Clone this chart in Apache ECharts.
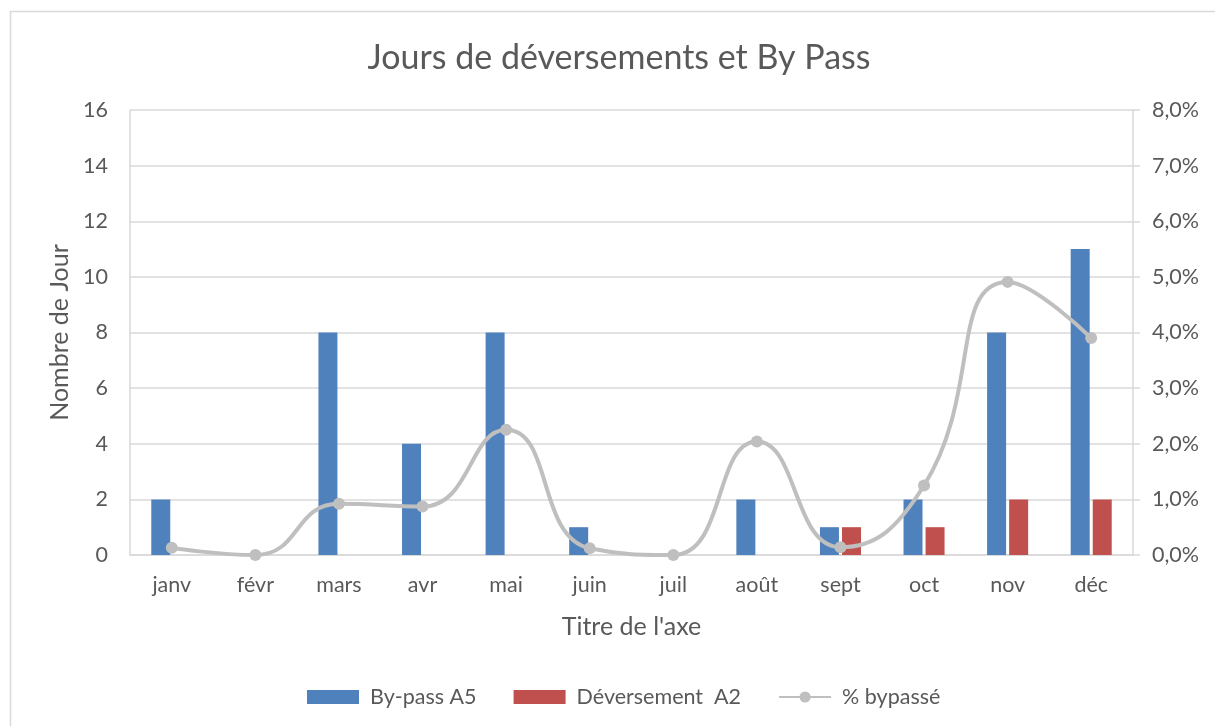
<!DOCTYPE html>
<html>
<head>
<meta charset="utf-8">
<script src="https://cdn.jsdelivr.net/npm/echarts@6/dist/echarts.min.js"></script>
<style>html,body{margin:0;padding:0;background:#fff;}#c{width:1215px;height:726px;}</style>
</head>
<body>
<div id="c"></div>
<script>
var categories = ['janv','févr','mars','avr','mai','juin','juil','août','sept','oct','nov','déc'];
var bypassA5 = [2,0,8,4,8,1,0,2,1,2,8,11];
var deversementA2 = [0,0,0,0,0,0,0,0,1,1,2,2];
var pctBypasse = [0.13,0.0,0.92,0.87,2.25,0.12,0.0,2.04,0.14,1.25,4.91,3.9];
var leftTicks = {min:0,max:16,interval:2};
var rightTicks = {min:0,max:8,interval:1};

var FONT = 'Lato, "Liberation Sans", sans-serif';
var TXT = '#595959';
var chart = echarts.init(document.getElementById('c'), null, {renderer:'canvas'});
chart.setOption({
  animation:false,
  backgroundColor:'#fff',
  textStyle:{fontFamily:FONT,color:TXT},
  graphic:[{type:'rect',shape:{x:10.5,y:11.5,width:1230,height:740},style:{fill:'none',stroke:'#D9D9D9',lineWidth:1.5},silent:true,z:-10}],
  title:{text:'Jours de déversements et By Pass',left:614,top:36,textAlign:'center',
    textStyle:{fontFamily:FONT,fontSize:34,fontWeight:'normal',color:TXT}},
  grid:{left:130,right:82,top:110,bottom:171,containLabel:false},
  legend:{top:681,left:302,itemWidth:52,itemHeight:14,itemGap:37,
    textStyle:{fontFamily:FONT,fontSize:21.5,color:TXT,padding:[0,0,0,6]},
    data:[{name:'By-pass A5',icon:'rect'},{name:'Déversement  A2',icon:'rect'},{name:'% bypassé'}]},
  xAxis:{type:'category',data:categories,
    axisLine:{lineStyle:{color:'#D9D9D9',width:1.5}},axisTick:{show:false},
    axisLabel:{fontFamily:FONT,fontSize:21.5,color:TXT,margin:19},
    name:"Titre de l'axe",nameLocation:'middle',nameGap:59,
    nameTextStyle:{fontFamily:FONT,fontSize:25,color:TXT}},
  yAxis:[{type:'value',min:leftTicks.min,max:leftTicks.max,interval:leftTicks.interval,
    axisLine:{show:true,lineStyle:{color:'#D9D9D9',width:1.5}},axisTick:{show:false},
    splitLine:{lineStyle:{color:'#D9D9D9',width:1.5}},
    axisLabel:{fontFamily:FONT,fontSize:21.5,color:TXT,margin:22},
    name:'Nombre de Jour',nameLocation:'middle',nameGap:56,nameRotate:90,
    nameTextStyle:{fontFamily:FONT,fontSize:25,color:TXT}},
   {type:'value',min:rightTicks.min,max:rightTicks.max,interval:rightTicks.interval,position:'right',
    axisLine:{show:true,lineStyle:{color:'#D9D9D9',width:1.5}},
    axisTick:{show:true,length:7,lineStyle:{color:'#D9D9D9',width:1.5}},
    splitLine:{show:false},
    axisLabel:{fontFamily:FONT,fontSize:21.5,color:TXT,margin:19,
      formatter:function(v){return v.toFixed(1).replace('.',',')+'%';}}}],
  series:[
    {name:'By-pass A5',type:'bar',data:bypassA5,barWidth:19,barGap:'16%',itemStyle:{color:'#4F81BD'}},
    {name:'Déversement  A2',type:'bar',data:deversementA2,barWidth:19,itemStyle:{color:'#C0504D'}},
    {name:'% bypassé',type:'line',yAxisIndex:1,data:pctBypasse,smooth:0.5,clip:true,
      symbol:'circle',symbolSize:12,z:5,
      lineStyle:{color:'#BFBFBF',width:4},itemStyle:{color:'#BFBFBF'}}
  ]
});
</script>
</body>
</html>
